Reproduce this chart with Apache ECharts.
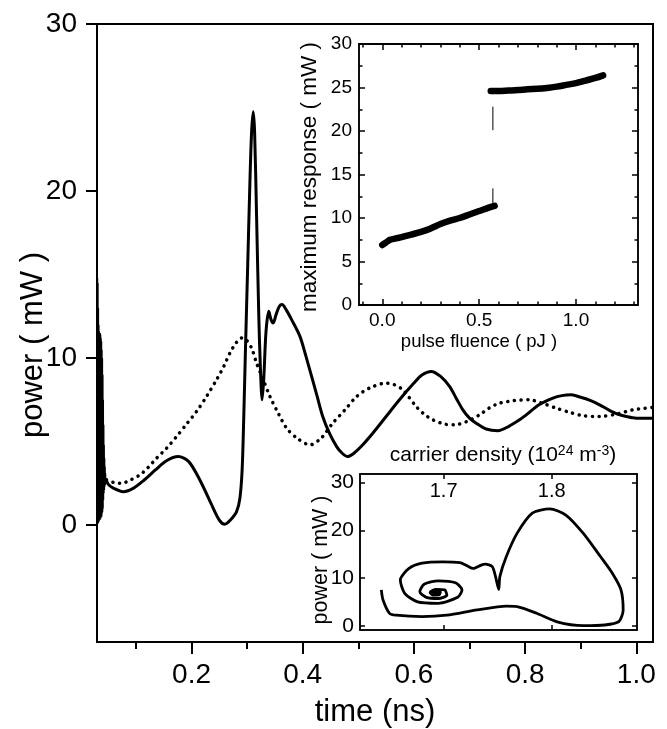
<!DOCTYPE html>
<html><head><meta charset="utf-8">
<script src="https://cdn.jsdelivr.net/npm/echarts@6/dist/echarts.min.js"></script>
<style>html,body{margin:0;padding:0;background:#fff}#c{width:667px;height:729px}</style>
</head><body><div id="c"></div>
<script>
// ---------- data ----------
const spikeTime  = [0.0300,0.0304,0.0308,0.0312,0.0316,0.0320,0.0324,0.0328,0.0332,0.0336,0.0340,0.0344,0.0348,0.0352,0.0356,0.0360,0.0364,0.0368,0.0372,0.0376,0.0380,0.0384,0.0388,0.0392,0.0396,0.0400,0.0404,0.0408,0.0412,0.0416,0.0420,0.0424,0.0428,0.0432,0.0436,0.0440,0.0444,0.0448,0.0452,0.0460];
const spikePower = [3.0,14.8,0.2,14.5,0.1,13.0,0.3,12.0,0.2,11.6,0.4,11.5,0.3,11.5,0.5,11.4,0.4,11.2,0.6,11.0,0.5,10.5,0.7,10.0,0.8,9.0,1.0,7.5,1.5,6.0,1.9,4.8,2.1,4.0,2.3,3.5,2.4,3.1,2.5,2.8];

const solidTime  = [0.046,0.050,0.060,0.077,0.095,0.115,0.135,0.155,0.176,0.195,0.215,0.235,0.250,0.260,0.270,0.281,0.287,0.291,0.294,0.297,0.301,0.305,0.308,0.311,0.3135,0.317,0.321,0.324,0.327,0.330,0.334,0.339,0.343,0.347,0.352,0.358,0.363,0.370,0.380,0.395,0.405,0.416,0.426,0.436,0.448,0.461,0.471,0.481,0.492,0.505,0.526,0.550,0.574,0.600,0.615,0.631,0.648,0.664,0.676,0.688,0.700,0.712,0.730,0.751,0.770,0.790,0.802,0.825,0.850,0.866,0.883,0.900,0.918,0.934,0.950,0.966,0.982,1.000,1.030];
const solidPower = [2.8,2.45,2.2,2.0,2.2,2.7,3.3,3.85,4.1,3.8,2.7,1.3,0.3,0.05,0.3,0.8,1.6,3.3,6.5,10.5,15.5,20.5,23.5,24.75,23.5,18.5,12.5,9.3,7.5,8.8,11.6,12.8,12.3,12.1,12.6,13.1,13.2,12.9,12.3,11.3,10.2,8.9,7.7,6.5,5.5,4.7,4.3,4.1,4.3,4.7,5.5,6.5,7.5,8.5,9.0,9.2,8.9,8.3,7.6,6.9,6.4,6.1,5.75,5.65,5.9,6.3,6.6,7.2,7.6,7.75,7.8,7.65,7.45,7.2,6.9,6.65,6.5,6.4,6.4];

const dottedTime  = [0.047,0.060,0.074,0.090,0.107,0.122,0.137,0.155,0.173,0.190,0.209,0.227,0.245,0.258,0.269,0.280,0.290,0.298,0.308,0.317,0.329,0.341,0.356,0.371,0.390,0.413,0.433,0.454,0.476,0.497,0.520,0.550,0.565,0.580,0.604,0.620,0.634,0.655,0.673,0.695,0.718,0.735,0.754,0.780,0.808,0.830,0.856,0.880,0.904,0.934,0.965,0.994,1.030];
const dottedPower = [2.7,2.55,2.5,2.7,3.0,3.45,4.0,4.6,5.3,6.0,6.8,7.7,8.7,9.5,10.3,10.9,11.2,11.1,10.6,9.7,8.7,7.7,6.7,5.8,5.2,4.8,5.2,6.1,6.9,7.7,8.2,8.5,8.4,8.1,7.1,6.6,6.3,6.05,6.0,6.2,6.6,7.0,7.3,7.45,7.5,7.3,7.0,6.75,6.55,6.5,6.65,6.9,7.05];

const fluenceLow   = [0.00,0.02,0.04,0.06,0.08,0.10,0.15,0.20,0.25,0.30,0.35,0.40,0.45,0.50,0.55,0.58];
const responseLow  = [6.9,7.2,7.5,7.6,7.7,7.8,8.1,8.4,8.8,9.3,9.7,10.0,10.4,10.8,11.2,11.4];
const fluenceHigh  = [0.56,0.60,0.65,0.70,0.75,0.80,0.85,0.90,0.95,1.00,1.05,1.10,1.14];
const responseHigh = [24.6,24.6,24.65,24.7,24.8,24.85,24.95,25.1,25.3,25.5,25.8,26.1,26.4];
const jumpFluence  = [0.571,0.571];
const jumpUpper    = [22.8,20.1];
const jumpLower    = [13.4,11.5];

const densityN = [1.6424,1.644,1.650,1.656,1.680,1.703,1.731,1.758,1.768,1.786,1.805,1.829,1.849,1.862,1.866,1.864,1.856,1.845,1.829,1.813,1.798,1.782,1.768,1.758,1.752,1.751,1.748,1.745,1.7385,1.7347,1.727,1.723,1.715,1.699,1.680,1.668,1.660,1.664,1.676,1.695,1.713,1.717,1.711,1.695,1.682,1.678,1.684,1.695,1.703,1.701,1.693,1.6875,1.690,1.696,1.697,1.692,1.690,1.693,1.6945,1.692,1.6905,1.6925,1.694,1.692];
const densityP = [7.5,5.4,2.6,2.2,1.9,2.2,3.3,4.1,4.0,2.6,0.8,0.0,0.15,0.85,3.3,7.5,11.0,14.5,19.4,23.2,24.5,23.6,19.4,14.5,10.3,7.6,10.3,12.4,12.9,12.7,12.0,12.4,13.2,13.4,13.1,12.0,9.6,6.8,5.0,4.7,5.95,7.5,9.0,9.4,8.7,7.1,5.95,5.7,6.4,7.5,7.6,7.0,6.4,6.5,7.1,7.2,6.8,6.6,6.9,7.15,6.95,6.75,6.95,7.0];

const mainXTicks  = [0.2,0.4,0.6,0.8,1.0];
const mainXMinor  = [0.1,0.3,0.5,0.7,0.9];
const mainYTicks  = [0,10,20,30];
const insetXTicks = [0.0,0.5,1.0];
const insetXMinor = [-0.1,0.1,0.2,0.3,0.4,0.6,0.7,0.8,0.9,1.1,1.2,1.3];
const phaseXTicks = [1.7,1.8];
const phaseYTicks = [0,10,20,30];

// ---------- chart ----------
const FONT = "'Liberation Sans', Arial, Helvetica, sans-serif";
const zip = (a, b) => a.map((v, i) => [v, b[i]]);
const BLACK = '#000';

function xAx(grid, min, max, pos, o) {
  return Object.assign({
    type: 'value', gridIndex: grid, min: min, max: max, position: pos,
    axisLine: { show: true, onZero: false, lineStyle: { color: BLACK, width: o.lw || 2 } },
    axisTick: { show: true, inside: !!o.inside, length: o.tlen, customValues: o.ticks, lineStyle: { color: BLACK, width: o.tw || 2 } },
    axisLabel: o.labels ? { show: true, customValues: o.ticks, inside: !!o.labelInside, formatter: v => Number(v).toFixed(1),
      fontSize: o.fs, color: BLACK, fontFamily: FONT, margin: o.margin } : { show: false },
    splitLine: { show: false }
  }, o.extra || {});
}
function yAx(grid, min, max, pos, o) {
  const a = xAx(grid, min, max, pos, o);
  if (o.labels) a.axisLabel.formatter = v => String(Math.round(v));
  return a;
}

const chart = echarts.init(document.getElementById('c'), null, { renderer: 'canvas' });
chart.setOption({
  animation: false,
  backgroundColor: '#fff',
  textStyle: { fontFamily: FONT, color: BLACK },
  grid: [
    { left: 97, top: 24, width: 556, height: 618, show: true, borderColor: BLACK, borderWidth: 2, backgroundColor: 'transparent', containLabel: false },
    { left: 359, top: 44, width: 279, height: 261, show: true, borderColor: BLACK, borderWidth: 1.5, backgroundColor: '#fff', containLabel: false },
    { left: 360, top: 474, width: 277, height: 156, show: true, borderColor: BLACK, borderWidth: 1.5, backgroundColor: '#fff', containLabel: false }
  ],
  xAxis: [
    xAx(0, 0.03, 1.03, 'bottom', { ticks: mainXTicks, tlen: 12, labels: true, fs: 28, margin: 19 }),
    xAx(0, 0.03, 1.03, 'bottom', { ticks: mainXMinor, tlen: 7, extra: {} }),
    xAx(1, -0.12, 1.32, 'bottom', { ticks: insetXTicks, tlen: 6, inside: true, labels: true, fs: 19, margin: 6, lw: 1.5, tw: 1.5 }),
    xAx(1, -0.12, 1.32, 'bottom', { ticks: insetXMinor, tlen: 3.5, inside: true, lw: 1.5, tw: 1.5 }),
    xAx(1, -0.12, 1.32, 'top', { ticks: insetXTicks, tlen: 6, inside: true, lw: 1.5, tw: 1.5 }),
    xAx(1, -0.12, 1.32, 'top', { ticks: insetXMinor, tlen: 3.5, inside: true, lw: 1.5, tw: 1.5 }),
    xAx(2, 1.6227, 1.8788, 'top', { ticks: phaseXTicks, tlen: 5, inside: true, labels: true, labelInside: true, fs: 20, margin: 7, lw: 1.5, tw: 1.5 }),
    xAx(2, 1.6227, 1.8788, 'bottom', { ticks: phaseXTicks, tlen: 5, inside: true, lw: 1.5, tw: 1.5 })
  ],
  yAxis: [
    yAx(0, -7, 30, 'left', { ticks: mainYTicks, tlen: 11, labels: true, fs: 28, margin: 20 }),
    Object.assign(yAx(1, 0, 30, 'left', { ticks: undefined, tlen: 6, inside: true, labels: true, fs: 19, margin: 7, lw: 1.5, tw: 1.5 }),
      { interval: 5, minorTick: { show: true, splitNumber: 2, length: 3.5, lineStyle: { color: BLACK, width: 1.5 } }, minorSplitLine: { show: false } }),
    Object.assign(yAx(1, 0, 30, 'right', { ticks: undefined, tlen: 6, inside: true, lw: 1.5, tw: 1.5 }),
      { interval: 5, minorTick: { show: true, splitNumber: 2, length: 3.5, lineStyle: { color: BLACK, width: 1.5 } }, minorSplitLine: { show: false } }),
    yAx(2, -0.9, 31.8, 'left', { ticks: phaseYTicks, tlen: 5, inside: true, labels: true, fs: 21, margin: 6, lw: 1.5, tw: 1.5 }),
    yAx(2, -0.9, 31.8, 'right', { ticks: phaseYTicks, tlen: 5, inside: true, lw: 1.5, tw: 1.5 })
  ],
  series: [
    { type: 'line', xAxisIndex: 0, yAxisIndex: 0, data: zip(spikeTime, spikePower), showSymbol: false, symbol: 'none',
      lineStyle: { color: BLACK, width: 2 } },
    { type: 'line', xAxisIndex: 0, yAxisIndex: 0, data: zip(solidTime, solidPower), showSymbol: false, symbol: 'none', smooth: 0.3,
      lineStyle: { color: BLACK, width: 3 } },
    { type: 'line', xAxisIndex: 0, yAxisIndex: 0, data: zip(dottedTime, dottedPower), showSymbol: false, symbol: 'none', smooth: 0.3,
      lineStyle: { color: BLACK, width: 3.5, type: [0.1, 6.6], cap: 'round' } },
    { type: 'line', xAxisIndex: 2, yAxisIndex: 1, data: zip(fluenceLow, responseLow), showSymbol: false, symbol: 'none', smooth: 0.3,
      lineStyle: { color: BLACK, width: 6.5, cap: 'round' } },
    { type: 'line', xAxisIndex: 2, yAxisIndex: 1, data: zip(fluenceHigh, responseHigh), showSymbol: false, symbol: 'none', smooth: 0.3,
      lineStyle: { color: BLACK, width: 6.5, cap: 'round' } },
    { type: 'line', xAxisIndex: 2, yAxisIndex: 1, data: zip(jumpFluence, jumpUpper), showSymbol: false, symbol: 'none',
      lineStyle: { color: BLACK, width: 1 } },
    { type: 'line', xAxisIndex: 2, yAxisIndex: 1, data: zip(jumpFluence, jumpLower), showSymbol: false, symbol: 'none',
      lineStyle: { color: BLACK, width: 1 } },
    { type: 'line', xAxisIndex: 6, yAxisIndex: 3, data: zip(densityN, densityP), showSymbol: false, symbol: 'none', smooth: 0.25,
      lineStyle: { color: BLACK, width: 2.8 } }
  ],
  graphic: [
    { type: 'text', x: 33, y: 345, rotation: Math.PI / 2, style: { text: 'power ( mW )', font: '31px ' + FONT, fill: BLACK, textAlign: 'center', textVerticalAlign: 'middle' } },
    { type: 'text', x: 375, y: 712, style: { text: 'time (ns)', font: '31px ' + FONT, fill: BLACK, textAlign: 'center', textVerticalAlign: 'middle' } },
    { type: 'text', x: 310, y: 177, rotation: Math.PI / 2, style: { text: 'maximum response ( mW )', font: '22.5px ' + FONT, fill: BLACK, textAlign: 'center', textVerticalAlign: 'middle' } },
    { type: 'text', x: 479, y: 342, style: { text: 'pulse fluence ( pJ )', font: '18.5px ' + FONT, fill: BLACK, textAlign: 'center', textVerticalAlign: 'middle' } },
    { type: 'text', x: 321, y: 560, rotation: Math.PI / 2, style: { text: 'power ( mW )', font: '21.5px ' + FONT, fill: BLACK, textAlign: 'center', textVerticalAlign: 'middle' } },
    { type: 'text', x: 503, y: 455, style: { text: 'carrier density (10{sup|24} m{sup|-3})', font: '21px ' + FONT, fill: BLACK, textAlign: 'center', textVerticalAlign: 'middle',
      rich: { sup: { fontSize: 14, fontFamily: FONT, fill: BLACK, verticalAlign: 'top' } } } }
  ]
});
</script></body></html>
